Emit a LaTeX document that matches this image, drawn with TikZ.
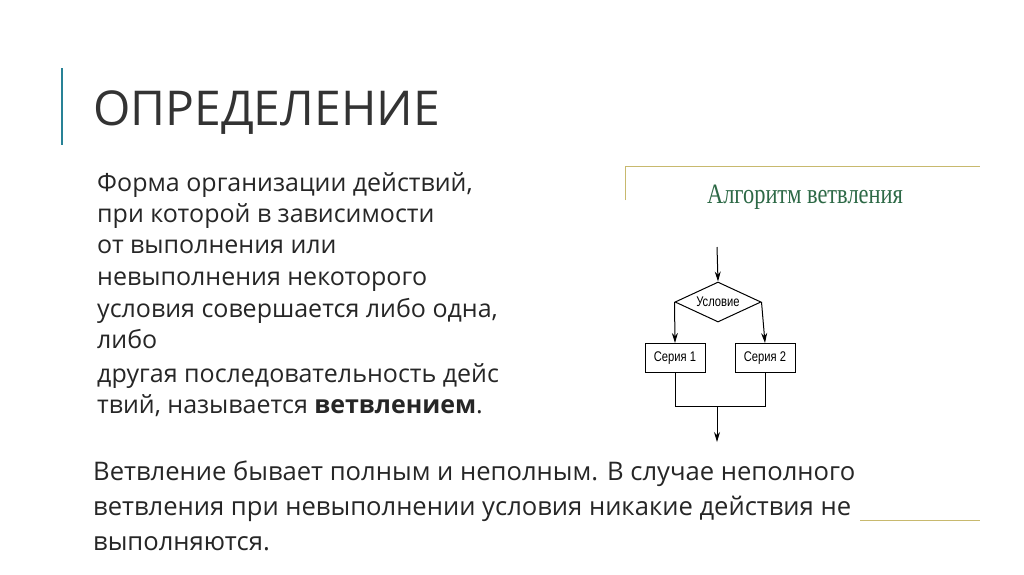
\documentclass[tikz,border=0pt]{standalone}
\usepackage{fontspec}
\setmainfont{Open Sans}
\newfontfamily\tnr{Liberation Serif}
\newfontfamily\ars{Liberation Sans}
\usetikzlibrary{shapes.geometric,arrows.meta}
\definecolor{gold}{RGB}{200,185,110}
\definecolor{tealc}{RGB}{40,130,150}
\definecolor{algg}{RGB}{45,105,70}
\tikzset{x=1pt,y=-1pt,
 txt/.style={anchor=base west,inner sep=0pt,font=\fontsize{25}{28}\selectfont,text=black!85},
 btxt/.style={txt,font=\fontsize{25.6}{28}\selectfont},
 ff/.style={font=\ars\fontsize{14}{15}\selectfont\addfontfeature{FakeStretch=0.8}},
 fbox/.style={draw,line width=1pt,minimum width=60pt,minimum height=29pt,inner sep=0pt,ff},
 fl/.style={line width=1pt},
 fa/.style={line width=1pt,-{Stealth[length=10pt,width=6pt]}}}
\begin{document}
\begin{tikzpicture}
\useasboundingbox (0,0) rectangle (1024,574);
\fill[white] (0,0) rectangle (1024,574);
\draw[tealc,line width=1.5pt] (62,68) -- (62,145);
\node[txt,font=\fontsize{48}{52}\selectfont,text=black!80] (title) at (93,125) {ОПРЕДЕЛЕНИЕ};
% gold frame
\draw[gold,line width=1pt] (625,200) -- (625,166) -- (980,166);
\draw[gold,line width=1pt] (860,520) -- (980,520);
\node[anchor=base,inner sep=0pt,font=\tnr\fontsize{28}{30}\selectfont\addfontfeature{FakeStretch=0.8},text=algg] (alg) at (805,203) {Алгоритм ветвления};
% paragraph
\node[txt] (l1) at (97,191) {Форма организации действий,};
\node[txt] (l2) at (97,222) {при которой в зависимости};
\node[txt] (l3) at (97,253) {от выполнения или};
\node[txt] (l4) at (97,285) {невыполнения некоторого};
\node[txt] (l5) at (97,317) {условия совершается либо одна,};
\node[txt] (l6) at (97,348) {либо};
\node[txt] (l7) at (97,382) {другая последовательность дейс};
\node[txt] (l8) at (97,413) {твий, называется \textbf{ветвлением}.};
\node[btxt] (b1) at (93,480) {Ветвление бывает полным и неполным. В случае неполного};
\node[btxt] (b2) at (93,515) {ветвления при невыполнении условия никакие действия не};
\node[btxt] (b3) at (93,550) {выполняются.};
% flowchart
\coordinate (in) at (717,247);
\node[diamond,draw,line width=1pt,minimum width=86pt,minimum height=40pt,inner sep=0pt,aspect=2.15,ff] (cond) at (718,302) {Условие};
\node[fbox] (s1) at (675,358) {Серия 1};
\node[fbox] (s2) at (765,358) {Серия 2};
\coordinate (j1) at (675,406);
\coordinate (j2) at (765,406);
\coordinate (jm) at (717,406);
\coordinate (out) at (717,442);
\draw[fa] (in) -- (cond.north);
\draw[fa] (cond.west) -- (s1.north);
\draw[fa] (cond.east) -- (s2.north);
\draw[fl] (s1.south) -- (j1) -- (j2) -- (s2.south);
\draw[fa] (jm) -- (out);
\end{tikzpicture}
\end{document}
